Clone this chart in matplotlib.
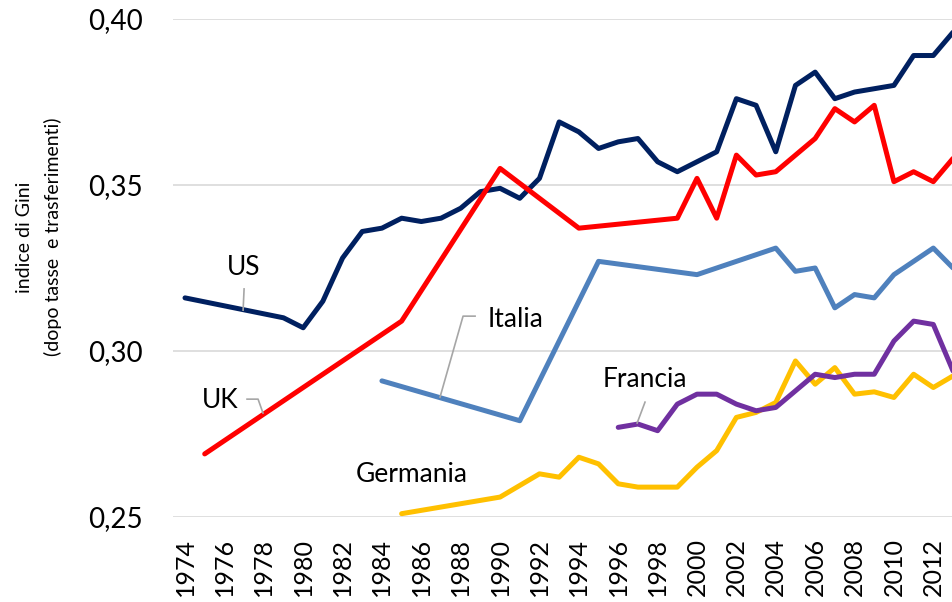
import matplotlib
matplotlib.use('Agg')
import matplotlib.pyplot as plt

plt.rcParams['font.family'] = ['Lato', 'DejaVu Sans']

# anni e indice di Gini (solo gli anni con un dato; le linee li collegano)
us_years = [1974, 1979, 1980, 1981, 1982, 1983, 1984, 1985, 1986, 1987, 1988, 1989,
            1990, 1991, 1992, 1993, 1994, 1995, 1996, 1997, 1998, 1999, 2000, 2001,
            2002, 2003, 2004, 2005, 2006, 2007, 2008, 2009, 2010, 2011, 2012, 2013]
us_gini = [0.316, 0.310, 0.307, 0.315, 0.328, 0.336, 0.337, 0.340, 0.339, 0.340, 0.343, 0.348,
           0.349, 0.346, 0.352, 0.369, 0.366, 0.361, 0.363, 0.364, 0.357, 0.354, 0.357, 0.360,
           0.376, 0.374, 0.360, 0.380, 0.384, 0.376, 0.378, 0.379, 0.380, 0.389, 0.389, 0.396]

uk_years = [1975, 1985, 1990, 1994, 1999, 2000, 2001, 2002, 2003, 2004, 2005, 2006,
            2007, 2008, 2009, 2010, 2011, 2012, 2013]
uk_gini = [0.269, 0.309, 0.355, 0.337, 0.340, 0.352, 0.340, 0.359, 0.353, 0.354, 0.359, 0.364,
           0.373, 0.369, 0.374, 0.351, 0.354, 0.351, 0.358]

it_years = [1984, 1991, 1995, 2000, 2004, 2005, 2006, 2007, 2008, 2009, 2010, 2011, 2012, 2013]
it_gini = [0.291, 0.279, 0.327, 0.323, 0.331, 0.324, 0.325, 0.313, 0.317, 0.316, 0.323, 0.327,
           0.331, 0.325]

fr_years = [1996, 1997, 1998, 1999, 2000, 2001, 2002, 2003, 2004, 2005, 2006, 2007, 2008,
            2009, 2010, 2011, 2012, 2013]
fr_gini = [0.277, 0.278, 0.276, 0.284, 0.287, 0.287, 0.284, 0.282, 0.283, 0.288, 0.293, 0.292,
           0.293, 0.293, 0.303, 0.309, 0.308, 0.294]

de_years = [1985, 1990, 1991, 1992, 1993, 1994, 1995, 1996, 1997, 1998, 1999, 2000, 2001,
            2002, 2003, 2004, 2005, 2006, 2007, 2008, 2009, 2010, 2011, 2012, 2013]
de_gini = [0.251, 0.256, 0.2595, 0.263, 0.262, 0.268, 0.266, 0.260, 0.259, 0.259, 0.259, 0.265,
           0.270, 0.280, 0.2815, 0.2845, 0.297, 0.290, 0.295, 0.287, 0.2877, 0.286, 0.293, 0.289,
           0.2925]

y_ticks = [0.25, 0.30, 0.35, 0.40]
x_ticks = list(range(1974, 2013, 2))

fig = plt.figure(figsize=(9.53, 6.02), dpi=100)
ax = fig.add_axes([173 / 953, 85 / 602, 780 / 953, 498 / 602])

series = [
    (us_years, us_gini, '#002060'),
    (uk_years, uk_gini, '#FF0000'),
    (it_years, it_gini, '#4F81BD'),
    (de_years, de_gini, '#FFC000'),
    (fr_years, fr_gini, '#7030A0'),
]
for yrs, vals, col in series:
    ax.plot(yrs, vals, color=col, lw=3.6, solid_capstyle='round',
            solid_joinstyle='round', zorder=3)

# etichette con linee guida
labels = [
    ('US', 1977.0, 0.3229, [(1977.0, 0.3187), (1976.95, 0.3123)]),
    ('UK', 1975.78, 0.2828, [(1977.15, 0.2855), (1977.71, 0.2855), (1977.96, 0.2813)]),
    ('Italia', 1990.81, 0.3072, [(1988.73, 0.3105), (1988.12, 0.3105), (1986.95, 0.2861)]),
    ('Germania', 1985.53, 0.2605, []),
    ('Francia', 1997.36, 0.2892, [(1997.36, 0.2846), (1996.96, 0.2783)]),
]
for txt, tx, ty, leader in labels:
    ax.text(tx, ty, txt, fontsize=19, ha='center', va='baseline', zorder=5)
    if leader:
        ax.plot([p[0] for p in leader], [p[1] for p in leader],
                color='#A6A6A6', lw=1.2, zorder=4)

ax.set_xlim(1973.39, 2013.0)
ax.set_ylim(0.25, 0.40)
ax.set_yticks(y_ticks)
ax.set_yticklabels([('%.2f' % v).replace('.', ',') for v in y_ticks])
ax.set_xticks(x_ticks)
ax.set_xticklabels([str(y) for y in x_ticks], rotation=90, va='top', ha='center')
ax.tick_params(axis='y', length=0, pad=22, labelsize=20)
ax.tick_params(axis='x', length=0, pad=15, labelsize=18)

ax.grid(axis='y', color='#D9D9D9', lw=1.2, zorder=0)
ax.set_axisbelow(True)
for s in ax.spines.values():
    s.set_visible(False)

fig.text(39 / 953, 1 - 237 / 602, 'indice di Gini\n(dopo tasse  e trasferimenti)',
         rotation=90, ha='center', va='center', fontsize=14, linespacing=1.75)

plt.savefig('out.png', dpi=100)
